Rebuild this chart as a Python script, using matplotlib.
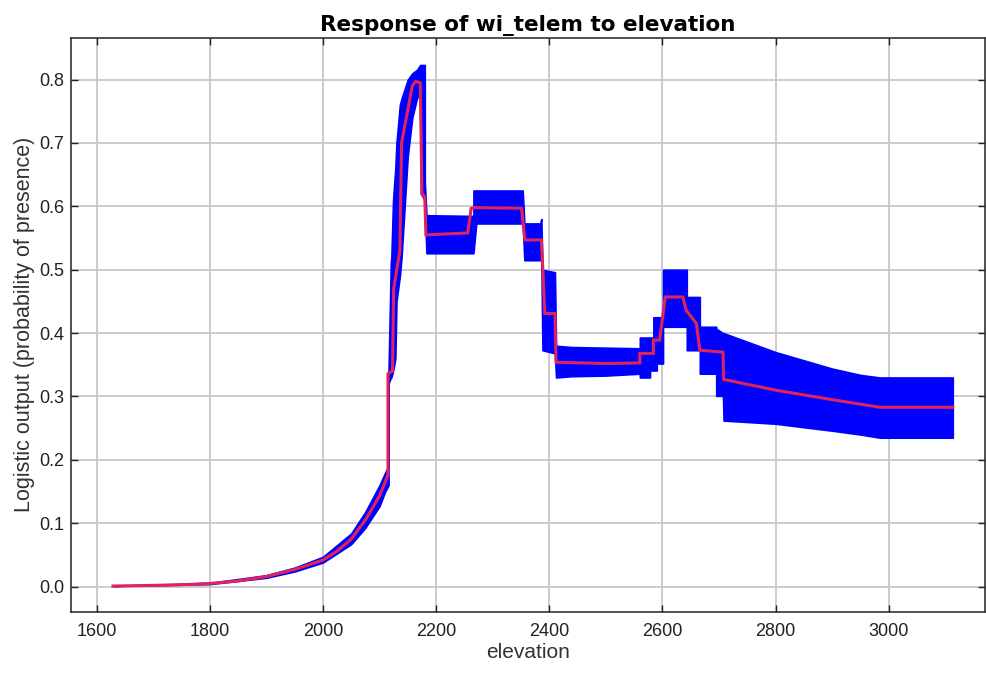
import matplotlib
matplotlib.use('Agg')

import matplotlib.pyplot as plt

# mean response (red line)
mean_elev = [1629, 1700, 1750, 1800, 1850, 1900, 1950, 2000, 2025, 2050, 2075, 2100,
             2115, 2115, 2123, 2125, 2136, 2139, 2158, 2164, 2172, 2175, 2180, 2182,
             2256, 2262, 2268, 2351, 2357, 2386, 2389, 2392, 2410, 2412, 2500, 2560,
             2560, 2584, 2584, 2595, 2605, 2636, 2642, 2660, 2666, 2707, 2708, 2800,
             2900, 2984, 3113]
mean_val = [0.001, 0.002, 0.003, 0.005, 0.009, 0.016, 0.027, 0.042, 0.056, 0.075, 0.105, 0.143,
            0.176, 0.336, 0.34, 0.47, 0.53, 0.70, 0.79, 0.797, 0.795, 0.62, 0.615, 0.555,
            0.558, 0.597, 0.598, 0.597, 0.547, 0.547, 0.494, 0.431, 0.431, 0.354, 0.352, 0.353,
            0.368, 0.368, 0.389, 0.389, 0.457, 0.457, 0.436, 0.415, 0.373, 0.37, 0.327, 0.31,
            0.295, 0.283, 0.283]

# mean +/- one standard deviation (blue band)
band_elev = [1629, 1800, 1900, 1950, 2000, 2050, 2075, 2100, 2110, 2116, 2116, 2120,
             2121, 2124, 2128, 2130, 2136, 2139, 2150, 2158, 2166, 2172, 2173, 2180, 2180,
             2183, 2256, 2266, 2266, 2271, 2353, 2356, 2384, 2386, 2388, 2410, 2412,
             2440, 2500, 2560, 2560, 2578, 2578, 2584, 2584, 2590, 2590, 2601, 2601,
             2636, 2636, 2643, 2643, 2666, 2666, 2695, 2695, 2707, 2708, 2800, 2900,
             2950, 2984, 3113]
band_lo = [0.001, 0.004, 0.014, 0.024, 0.038, 0.067, 0.093, 0.127, 0.150, 0.16, 0.32, 0.33,
           0.33, 0.34, 0.36, 0.45, 0.49, 0.52, 0.68, 0.74, 0.77, 0.78, 0.62, 0.61, 0.60,
           0.526, 0.526, 0.526, 0.526, 0.573, 0.573, 0.515, 0.515, 0.515, 0.373, 0.368, 0.33,
           0.332, 0.333, 0.336, 0.33, 0.33, 0.341, 0.341, 0.341, 0.341, 0.352, 0.352, 0.41,
           0.41, 0.41, 0.41, 0.373, 0.373, 0.336, 0.336, 0.301, 0.301, 0.262, 0.257, 0.246,
           0.24, 0.235, 0.235]
band_hi = [0.001, 0.006, 0.018, 0.030, 0.047, 0.084, 0.118, 0.160, 0.180, 0.19, 0.34, 0.51,
           0.52, 0.61, 0.66, 0.70, 0.76, 0.77, 0.80, 0.81, 0.815, 0.823, 0.823, 0.823, 0.64,
           0.586, 0.585, 0.585, 0.625, 0.625, 0.625, 0.573, 0.573, 0.58, 0.50, 0.496, 0.38,
           0.378, 0.377, 0.376, 0.393, 0.393, 0.393, 0.393, 0.425, 0.425, 0.425, 0.425, 0.50,
           0.50, 0.50, 0.50, 0.457, 0.457, 0.41, 0.41, 0.407, 0.40, 0.40, 0.37, 0.344,
           0.334, 0.33, 0.33]

xticks = [1600, 1800, 2000, 2200, 2400, 2600, 2800, 3000]
yticks = [0.0, 0.1, 0.2, 0.3, 0.4, 0.5, 0.6, 0.7, 0.8]

plt.rcParams['font.family'] = ['Liberation Sans', 'DejaVu Sans']

fig = plt.figure(figsize=(9.87, 6.74), dpi=100)
ax = fig.add_axes([0.072, 0.092, 0.926, 0.852])

ax.fill_between(band_elev, band_lo, band_hi, color='#0000ff', edgecolor='#0000ff',
                lw=1.2, zorder=2)
ax.plot(mean_elev, mean_val, color='#e0245a', lw=2.2, zorder=3,
        solid_joinstyle='miter')

ax.set_xlim(1555, 3170)
ax.set_ylim(-0.04, 0.866)
ax.set_xticks(xticks)
ax.set_yticks(yticks)
ax.set_yticklabels(['%.1f' % v for v in yticks])
ax.grid(True, color='#c8c8c8', lw=1.3, zorder=0)
ax.set_axisbelow(True)
ax.tick_params(direction='in', length=5, width=1, top=True, right=True,
               labelsize=13, colors='#222222')
ax.tick_params(axis='x', pad=8)
ax.tick_params(axis='y', pad=5)
for sp in ax.spines.values():
    sp.set_linewidth(1.1)
    sp.set_color('#222222')

ax.set_xlabel('elevation', fontsize=15, color='#333333', labelpad=2)
ax.set_ylabel('Logistic output (probability of presence)', fontsize=15.5,
              color='#333333', labelpad=3)
ax.set_title('Response of wi_telem to elevation', fontsize=15.5, fontweight='bold',
             family=['DejaVu Sans'], pad=5)

plt.savefig('out.png', dpi=100)
